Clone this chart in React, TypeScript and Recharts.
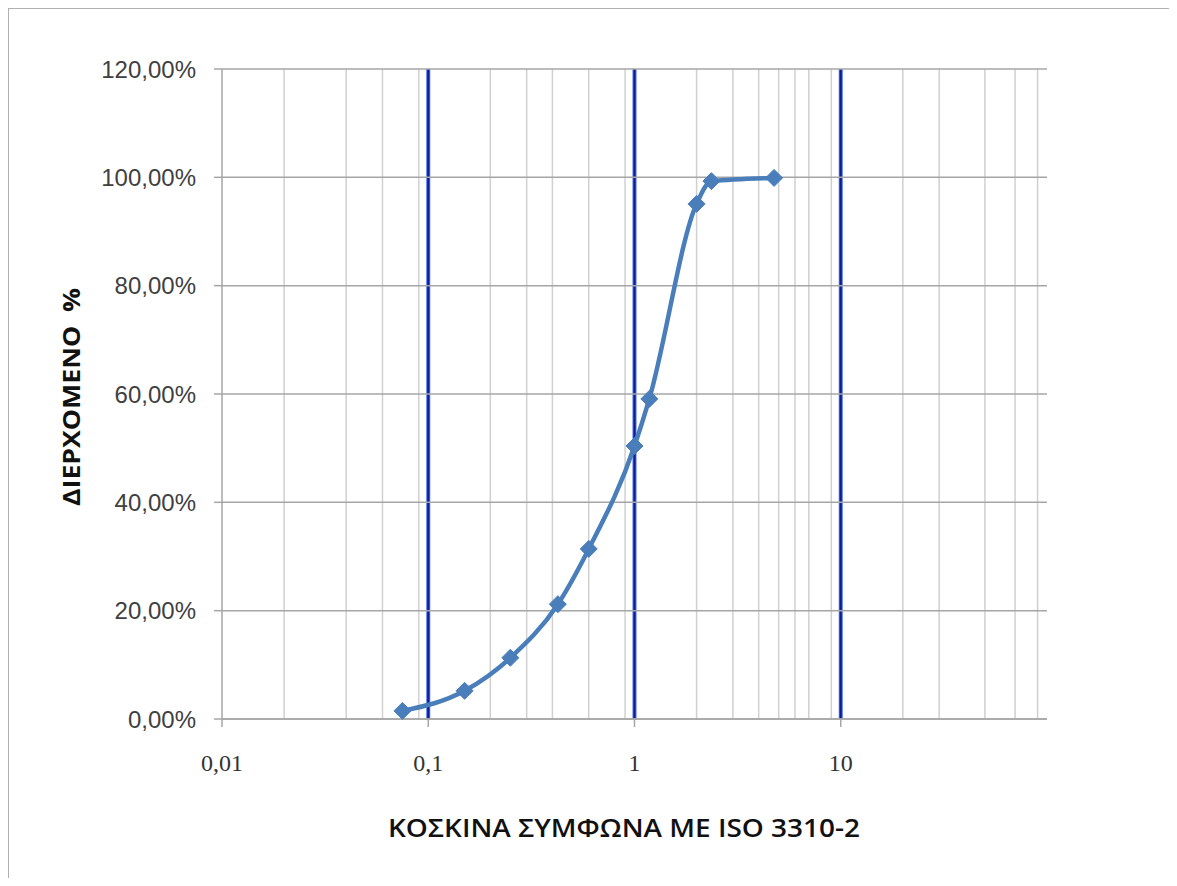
import React from "react";
import { ComposedChart, Line, XAxis, YAxis, CartesianGrid, Label } from "recharts";

// Sieve sizes (mm) according to ISO 3310-2
const sieveSizes = [0.075, 0.15, 0.25, 0.425, 0.6, 1.0, 1.18, 2.0, 2.36, 4.75];
// Passing percentage
const passing = [1.5, 5.2, 11.3, 21.2, 31.4, 50.4, 59.1, 95.1, 99.3, 99.9];

const xTicks = [0.01, 0.1, 1, 10];
const yTicks = [0, 20, 40, 60, 80, 100, 120];
const majorGrid = [0.1, 1, 10];
const minorGrid = [
  0.02, 0.03, 0.04, 0.05, 0.06, 0.07, 0.08, 0.09,
  0.2, 0.3, 0.4, 0.5, 0.6, 0.7, 0.8, 0.9,
  2, 3, 4, 5, 6, 7, 8, 9,
  20, 30, 40, 50, 60, 70, 80, 90,
];

const data = sieveSizes.map((s, i) => ({ size: s, pass: passing[i] }));

const fmtX = (v: number) => String(v).replace(".", ",");
const fmtY = (v: number) => v.toFixed(2).replace(".", ",") + "%";

const Diamond = (props: any) => {
  const { cx, cy } = props;
  if (cx == null || cy == null) return null;
  const r = 8.5;
  return (
    <polygon
      points={`${cx},${cy - r} ${cx + r},${cy} ${cx},${cy + r} ${cx - r},${cy}`}
      fill="#4a7ebb"
      stroke="#4a7ebb"
      strokeWidth={1}
    />
  );
};

export default function App() {
  return (
    <div
      style={{
        width: 1160,
        height: 869,
        borderLeft: "1px solid #b0b0b0",
        borderTop: "1px solid #b0b0b0",
        background: "#fff",
        overflow: "hidden",
      }}
    >
      <ComposedChart
        width={1160}
        height={868}
        data={data}
        margin={{ top: 60, right: 122, left: 0, bottom: 118 }}
      >
        <CartesianGrid
          horizontal={false}
          verticalValues={minorGrid}
          stroke="#d0d0d0"
          strokeWidth={1.5}
        />
        <CartesianGrid
          horizontal={false}
          verticalValues={majorGrid}
          stroke="#3a6cf0"
          strokeWidth={4}
        />
        <CartesianGrid
          horizontal={false}
          verticalValues={majorGrid}
          stroke="#141a8c"
          strokeWidth={2}
        />
        <CartesianGrid vertical={false} stroke="#a6a6a6" strokeWidth={1.5} />
        <XAxis
          dataKey="size"
          type="number"
          scale="log"
          domain={[0.01, 100]}
          allowDataOverflow
          ticks={xTicks}
          tickFormatter={fmtX}
          height={40}
          tickSize={8}
          tickMargin={27}
          axisLine={{ stroke: "#a6a6a6", strokeWidth: 1.5 }}
          tickLine={{ stroke: "#a6a6a6", strokeWidth: 1.5 }}
          tick={{ fill: "#333", fontSize: 24, fontFamily: "Liberation Serif" }}
        >
          <Label
            content={() => (
              <text
                x={615}
                y={818}
                textAnchor="middle"
                dominantBaseline="central"
                fontFamily="Open Sans"
                fontWeight={600}
                fontSize={26}
                fill="#111"
                textLength={472}
                lengthAdjust="spacingAndGlyphs"
              >
                ΚΟΣΚΙΝΑ ΣΥΜΦΩΝΑ ΜΕ ISO 3310-2
              </text>
            )}
          />
        </XAxis>
        <YAxis
          type="number"
          domain={[0, 120]}
          ticks={yTicks}
          tickFormatter={fmtY}
          width={213}
          tickSize={8}
          tickMargin={18}
          axisLine={{ stroke: "#a6a6a6", strokeWidth: 1.5 }}
          tickLine={{ stroke: "#a6a6a6", strokeWidth: 1.5 }}
          tick={{ fill: "#404040", fontSize: 24, fontFamily: "Liberation Sans" }}
        >
          <Label
            content={() => (
              <text
                x={61}
                y={388}
                transform="rotate(-90 61 388)"
                textAnchor="middle"
                dominantBaseline="central"
                fontFamily="Open Sans"
                fontWeight={700}
                fontSize={24}
                fill="#111"
                textLength={218}
                lengthAdjust="spacingAndGlyphs"
              >
                {"ΔΙΕΡΧΟΜΕΝΟ\u00A0\u00A0%"}
              </text>
            )}
          />
        </YAxis>
        <Line
          type="monotone"
          dataKey="pass"
          stroke="#4a7ebb"
          strokeWidth={4.5}
          dot={<Diamond />}
          activeDot={false}
          isAnimationActive={false}
        />
      </ComposedChart>
    </div>
  );
}
